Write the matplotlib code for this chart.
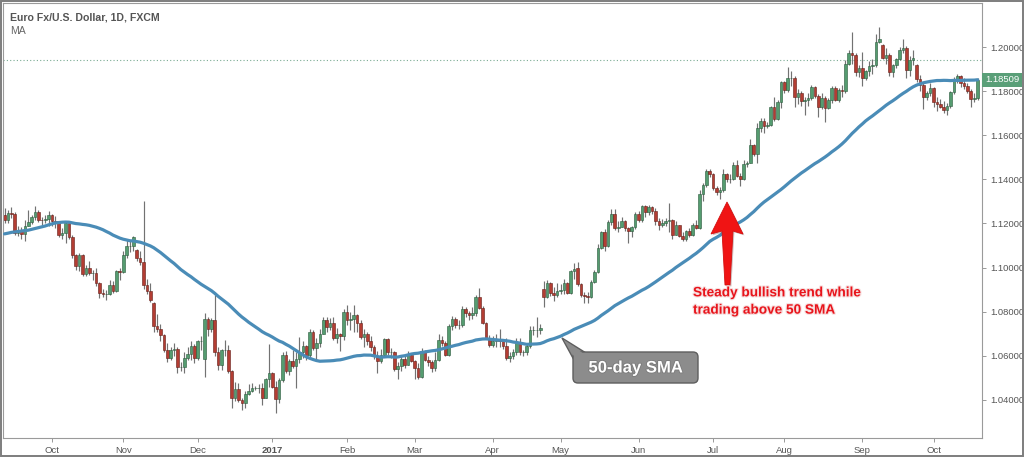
import numpy as np
import pandas as pd
import matplotlib
matplotlib.use("Agg")
import matplotlib.pyplot as plt
import matplotlib.patheffects as pe
from matplotlib.patches import Polygon, FancyBboxPatch, Rectangle
from matplotlib.transforms import Affine2D, blended_transform_factory

plt.rcParams["font.family"] = ["Liberation Sans", "DejaVu Sans"]

W, H = 1024, 457

# EUR/USD daily, FXCM, 2016-09-13 .. 2017-10-19 (weekdays)
start_date = "2016-09-13"

# closes before the visible window, only used to seed the 50-day SMA
warmup_closes = [
    1.1095, 1.1060, 1.1050, 1.1055, 1.1060, 1.1090, 1.1120, 1.1040, 1.1070, 1.1020,
    1.1025, 1.1025, 1.0975, 1.0990, 1.0995, 1.1060, 1.1075, 1.1170,
    1.1165, 1.1225, 1.1150, 1.1130, 1.1085, 1.1085, 1.1110, 1.1175, 1.1135, 1.1160,
    1.1185, 1.1280, 1.1290, 1.1350, 1.1325, 1.1320, 1.1305, 1.1265, 1.1285, 1.1195,
    1.1195, 1.1150, 1.1160,
    1.1195, 1.1155, 1.1150, 1.1255, 1.1240, 1.1260, 1.1230, 1.1240,
]

opens = [
    # Sep 2016
    1.1240, 1.1218, 1.1248, 1.1242, 1.1158, 1.1168, 1.1152, 1.1190, 1.1208, 1.1228, 1.1252, 1.1216, 1.1214, 1.1222,
    # Oct
    1.1238, 1.1210, 1.1205, 1.1150, 1.1155, 1.1200, 1.1140, 1.1055, 1.1005, 1.1055, 1.0970, 1.1000, 1.0975, 1.0975,
    1.0930, 1.0885, 1.0880, 1.0880, 1.0920, 1.0895, 1.0985,
    # Nov
    1.0980, 1.1055, 1.1100, 1.1100, 1.1080, 1.1045, 1.1025, 1.0920, 1.0895, 1.0840, 1.0735, 1.0720, 1.0695, 1.0625,
    1.0590, 1.0625, 1.0630, 1.0550, 1.0550, 1.0590, 1.0610, 1.0645,
    # Dec
    1.0590, 1.0665, 1.0585, 1.0765, 1.0720, 1.0760, 1.0615, 1.0560, 1.0625, 1.0625, 1.0530, 1.0410, 1.0450, 1.0400,
    1.0385, 1.0425, 1.0440, 1.0455, 1.0455, 1.0455, 1.0410, 1.0495,
    # Jan 2017
    1.0520, 1.0460, 1.0405, 1.0490, 1.0605, 1.0530, 1.0575, 1.0555, 1.0585, 1.0615, 1.0645, 1.0605, 1.0710, 1.0635,
    1.0660, 1.0700, 1.0760, 1.0730, 1.0750, 1.0680, 1.0700, 1.0690,
    # Feb
    1.0800, 1.0760, 1.0765, 1.0785, 1.0750, 1.0685, 1.0700, 1.0665, 1.0640, 1.0600, 1.0575, 1.0605, 1.0675, 1.0615,
    1.0615, 1.0540, 1.0555, 1.0585, 1.0560, 1.0605,
    # Mar
    1.0575, 1.0545, 1.0505, 1.0620, 1.0580, 1.0570, 1.0545, 1.0580, 1.0670, 1.0660, 1.0605, 1.0735, 1.0765, 1.0740,
    1.0740, 1.0810, 1.0795, 1.0785, 1.0795, 1.0865, 1.0815, 1.0750, 1.0680,
    # Apr
    1.0650, 1.0665, 1.0675, 1.0665, 1.0645, 1.0590, 1.0600, 1.0615, 1.0660, 1.0615, 1.0615, 1.0645, 1.0715, 1.0715,
    1.0715, 1.0905, 1.0865, 1.0930, 1.0885, 1.0875,
    # May
    1.0895, 1.0900, 1.0930, 1.0885, 1.0985, 1.1000, 1.0925, 1.0875, 1.0870, 1.0865, 1.0935, 1.0980, 1.1090, 1.1160,
    1.1100, 1.1205, 1.1245, 1.1180, 1.1185, 1.1210, 1.1180, 1.1165, 1.1185,
    # Jun
    1.1245, 1.1215, 1.1280, 1.1250, 1.1275, 1.1255, 1.1210, 1.1195, 1.1200, 1.1210, 1.1215, 1.1150, 1.1195, 1.1145,
    1.1130, 1.1165, 1.1150, 1.1195, 1.1180, 1.1335, 1.1375, 1.1440,
    # Jul
    1.1425, 1.1360, 1.1345, 1.1350, 1.1425, 1.1400, 1.1400, 1.1465, 1.1415, 1.1400, 1.1470, 1.1475, 1.1555, 1.1515,
    1.1635, 1.1665, 1.1640, 1.1645, 1.1730, 1.1675, 1.1750,
    # Aug
    1.1840, 1.1805, 1.1860, 1.1860, 1.1775, 1.1790, 1.1755, 1.1760, 1.1770, 1.1820, 1.1780, 1.1730, 1.1770, 1.1725,
    1.1760, 1.1815, 1.1760, 1.1805, 1.1800, 1.1925, 1.1975, 1.1965, 1.1885,
    # Sep
    1.1905, 1.1860, 1.1890, 1.1915, 1.1920, 1.2025, 1.2010, 1.1950, 1.1965, 1.1885, 1.1920, 1.1945, 1.1985, 1.1995,
    1.1895, 1.1940, 1.1920, 1.1855, 1.1830, 1.1775, 1.1790,
    # Oct
    1.1815, 1.1750, 1.1740, 1.1730, 1.1715, 1.1735, 1.1795, 1.1855, 1.1870, 1.1835, 1.1825, 1.1800, 1.1765, 1.1770,
]

highs = [
    1.1270, 1.1260, 1.1275, 1.1250, 1.1190, 1.1185, 1.1215, 1.1260, 1.1240, 1.1278, 1.1260, 1.1228, 1.1240, 1.1258,
    1.1245, 1.1235, 1.1210, 1.1180, 1.1210, 1.1205, 1.1150, 1.1060, 1.1065, 1.1060, 1.1010, 1.1030, 1.0990, 1.1000,
    1.0935, 1.0905, 1.0900, 1.0945, 1.0940, 1.0990, 1.1000,
    1.1075, 1.1125, 1.1125, 1.1145, 1.1085, 1.1075, 1.1300, 1.0950, 1.0930, 1.0845, 1.0790, 1.0745, 1.0700, 1.0660,
    1.0640, 1.0660, 1.0640, 1.0570, 1.0615, 1.0640, 1.0665, 1.0655,
    1.0670, 1.0690, 1.0795, 1.0775, 1.0770, 1.0875, 1.0640, 1.0630, 1.0670, 1.0650, 1.0535, 1.0480, 1.0475, 1.0410,
    1.0440, 1.0470, 1.0475, 1.0465, 1.0470, 1.0475, 1.0500, 1.0655,
    1.0525, 1.0485, 1.0500, 1.0615, 1.0620, 1.0585, 1.0625, 1.0615, 1.0685, 1.0665, 1.0650, 1.0720, 1.0715, 1.0680,
    1.0720, 1.0775, 1.0775, 1.0770, 1.0775, 1.0725, 1.0705, 1.0810,
    1.0830, 1.0800, 1.0830, 1.0790, 1.0760, 1.0720, 1.0710, 1.0690, 1.0650, 1.0620, 1.0630, 1.0680, 1.0680, 1.0635,
    1.0620, 1.0570, 1.0600, 1.0600, 1.0620, 1.0610,
    1.0580, 1.0565, 1.0635, 1.0625, 1.0600, 1.0580, 1.0615, 1.0700, 1.0690, 1.0665, 1.0745, 1.0780, 1.0775, 1.0760,
    1.0825, 1.0820, 1.0805, 1.0820, 1.0875, 1.0906, 1.0825, 1.0755, 1.0695,
    1.0690, 1.0700, 1.0720, 1.0670, 1.0680, 1.0615, 1.0630, 1.0680, 1.0680, 1.0625, 1.0660, 1.0735, 1.0735, 1.0775,
    1.0745, 1.0938, 1.0945, 1.0935, 1.0910, 1.0930,
    1.0925, 1.0950, 1.0935, 1.0990, 1.1020, 1.1025, 1.0930, 1.0890, 1.0890, 1.0945, 1.0990, 1.1105, 1.1165, 1.1175,
    1.1215, 1.1265, 1.1265, 1.1210, 1.1230, 1.1215, 1.1185, 1.1190, 1.1250,
    1.1255, 1.1285, 1.1285, 1.1285, 1.1280, 1.1270, 1.1225, 1.1220, 1.1225, 1.1295, 1.1220, 1.1210, 1.1195, 1.1160,
    1.1170, 1.1180, 1.1200, 1.1215, 1.1350, 1.1385, 1.1445, 1.1445,
    1.1430, 1.1370, 1.1365, 1.1445, 1.1430, 1.1425, 1.1480, 1.1490, 1.1430, 1.1490, 1.1485, 1.1585, 1.1560, 1.1655,
    1.1680, 1.1680, 1.1660, 1.1735, 1.1775, 1.1760, 1.1845,
    1.1845, 1.1910, 1.1890, 1.1870, 1.1810, 1.1800, 1.1775, 1.1790, 1.1830, 1.1825, 1.1785, 1.1790, 1.1780, 1.1770,
    1.1825, 1.1825, 1.1815, 1.1830, 1.1940, 1.1985, 1.2070, 1.1975, 1.1920,
    1.1980, 1.1895, 1.1935, 1.1945, 1.2060, 1.2092, 1.2015, 1.1995, 1.1975, 1.1925, 1.1950, 1.2000, 1.2035, 1.2005,
    1.1960, 1.1985, 1.1925, 1.1875, 1.1835, 1.1800, 1.1835,
    1.1820, 1.1775, 1.1765, 1.1755, 1.1745, 1.1800, 1.1865, 1.1880, 1.1875, 1.1860, 1.1835, 1.1810, 1.1790, 1.1860,
]

lows = [
    1.1200, 1.1200, 1.1225, 1.1150, 1.1145, 1.1130, 1.1122, 1.1188, 1.1198, 1.1215, 1.1205, 1.1195, 1.1200, 1.1190,
    1.1190, 1.1180, 1.1140, 1.1130, 1.1110, 1.1130, 1.1045, 1.0990, 1.0985, 1.0960, 1.0960, 1.0965, 1.0945, 1.0915,
    1.0860, 1.0865, 1.0855, 1.0875, 1.0885, 1.0890, 1.0945,
    1.0975, 1.1045, 1.1070, 1.1075, 1.1030, 1.1010, 1.0905, 1.0880, 1.0845, 1.0710, 1.0710, 1.0665, 1.0615, 1.0570,
    1.0580, 1.0600, 1.0520, 1.0530, 1.0520, 1.0580, 1.0580, 1.0565,
    1.0580, 1.0625, 1.0505, 1.0690, 1.0710, 1.0600, 1.0535, 1.0535, 1.0600, 1.0520, 1.0365, 1.0395, 1.0390, 1.0352,
    1.0365, 1.0420, 1.0435, 1.0445, 1.0430, 1.0375, 1.0410, 1.0460,
    1.0455, 1.0340, 1.0385, 1.0480, 1.0520, 1.0515, 1.0545, 1.0455, 1.0565, 1.0590, 1.0580, 1.0590, 1.0625, 1.0585,
    1.0640, 1.0700, 1.0710, 1.0715, 1.0670, 1.0660, 1.0620, 1.0670,
    1.0740, 1.0715, 1.0710, 1.0710, 1.0675, 1.0640, 1.0650, 1.0620, 1.0585, 1.0520, 1.0565, 1.0595, 1.0605, 1.0590,
    1.0530, 1.0495, 1.0530, 1.0545, 1.0560, 1.0570,
    1.0495, 1.0495, 1.0500, 1.0575, 1.0555, 1.0525, 1.0530, 1.0575, 1.0645, 1.0600, 1.0600, 1.0715, 1.0725, 1.0720,
    1.0730, 1.0775, 1.0760, 1.0765, 1.0780, 1.0810, 1.0745, 1.0675, 1.0640,
    1.0640, 1.0640, 1.0640, 1.0630, 1.0580, 1.0570, 1.0585, 1.0605, 1.0605, 1.0600, 1.0605, 1.0635, 1.0695, 1.0685,
    1.0700, 1.0820, 1.0860, 1.0870, 1.0850, 1.0865,
    1.0880, 1.0880, 1.0880, 1.0880, 1.0950, 1.0915, 1.0865, 1.0840, 1.0840, 1.0860, 1.0930, 1.0975, 1.1085, 1.1075,
    1.1095, 1.1195, 1.1170, 1.1160, 1.1185, 1.1165, 1.1110, 1.1140, 1.1175,
    1.1205, 1.1205, 1.1230, 1.1240, 1.1245, 1.1195, 1.1170, 1.1185, 1.1190, 1.1160, 1.1130, 1.1150, 1.1140, 1.1120,
    1.1120, 1.1140, 1.1145, 1.1175, 1.1175, 1.1300, 1.1365, 1.1410,
    1.1350, 1.1330, 1.1310, 1.1345, 1.1390, 1.1385, 1.1395, 1.1410, 1.1370, 1.1395, 1.1455, 1.1475, 1.1505, 1.1475,
    1.1615, 1.1610, 1.1635, 1.1640, 1.1665, 1.1670, 1.1725,
    1.1790, 1.1795, 1.1825, 1.1730, 1.1740, 1.1735, 1.1690, 1.1735, 1.1760, 1.1770, 1.1685, 1.1720, 1.1660, 1.1720,
    1.1745, 1.1755, 1.1750, 1.1775, 1.1790, 1.1920, 1.1925, 1.1870, 1.1865,
    1.1825, 1.1850, 1.1870, 1.1880, 1.1910, 1.2020, 1.1945, 1.1925, 1.1870, 1.1865, 1.1905, 1.1940, 1.1975, 1.1860,
    1.1870, 1.1920, 1.1840, 1.1800, 1.1720, 1.1760, 1.1780,
    1.1730, 1.1710, 1.1725, 1.1700, 1.1690, 1.1725, 1.1785, 1.1835, 1.1820, 1.1810, 1.1790, 1.1730, 1.1750, 1.1760,
]

closes = [
    1.1218, 1.1248, 1.1242, 1.1158, 1.1168, 1.1152, 1.1190, 1.1208, 1.1228, 1.1252, 1.1216, 1.1214, 1.1222, 1.1238,
    1.1210, 1.1205, 1.1150, 1.1155, 1.1200, 1.1140, 1.1055, 1.1005, 1.1055, 1.0970, 1.1000, 1.0975, 1.0975, 1.0930,
    1.0885, 1.0880, 1.0880, 1.0920, 1.0895, 1.0985, 1.0980,
    1.1055, 1.1100, 1.1100, 1.1140, 1.1045, 1.1025, 1.0920, 1.0895, 1.0855, 1.0735, 1.0720, 1.0695, 1.0625, 1.0590,
    1.0625, 1.0630, 1.0550, 1.0550, 1.0590, 1.0610, 1.0645, 1.0590,
    1.0665, 1.0665, 1.0765, 1.0720, 1.0760, 1.0615, 1.0560, 1.0625, 1.0625, 1.0530, 1.0410, 1.0450, 1.0400, 1.0385,
    1.0425, 1.0440, 1.0455, 1.0455, 1.0455, 1.0410, 1.0495, 1.0520,
    1.0460, 1.0405, 1.0490, 1.0605, 1.0530, 1.0575, 1.0555, 1.0585, 1.0615, 1.0645, 1.0605, 1.0710, 1.0635, 1.0660,
    1.0700, 1.0760, 1.0730, 1.0750, 1.0680, 1.0700, 1.0690, 1.0800,
    1.0760, 1.0765, 1.0785, 1.0750, 1.0685, 1.0700, 1.0665, 1.0640, 1.0600, 1.0575, 1.0605, 1.0675, 1.0615, 1.0615,
    1.0540, 1.0555, 1.0585, 1.0560, 1.0605, 1.0575,
    1.0545, 1.0505, 1.0620, 1.0580, 1.0570, 1.0545, 1.0580, 1.0670, 1.0660, 1.0605, 1.0735, 1.0765, 1.0740, 1.0740,
    1.0810, 1.0795, 1.0785, 1.0795, 1.0865, 1.0815, 1.0750, 1.0680, 1.0650,
    1.0665, 1.0675, 1.0665, 1.0645, 1.0590, 1.0600, 1.0615, 1.0660, 1.0615, 1.0615, 1.0645, 1.0715, 1.0715, 1.0715,
    1.0725, 1.0865, 1.0930, 1.0885, 1.0875, 1.0895,
    1.0900, 1.0930, 1.0885, 1.0985, 1.0995, 1.0925, 1.0875, 1.0870, 1.0865, 1.0935, 1.0980, 1.1090, 1.1160, 1.1100,
    1.1205, 1.1245, 1.1180, 1.1185, 1.1210, 1.1180, 1.1165, 1.1185, 1.1245,
    1.1215, 1.1280, 1.1250, 1.1275, 1.1255, 1.1210, 1.1195, 1.1200, 1.1210, 1.1215, 1.1150, 1.1195, 1.1145, 1.1130,
    1.1165, 1.1150, 1.1195, 1.1180, 1.1335, 1.1375, 1.1440, 1.1425,
    1.1360, 1.1345, 1.1350, 1.1425, 1.1400, 1.1400, 1.1465, 1.1415, 1.1400, 1.1470, 1.1475, 1.1555, 1.1515, 1.1635,
    1.1665, 1.1640, 1.1645, 1.1730, 1.1675, 1.1750, 1.1840,
    1.1805, 1.1860, 1.1860, 1.1775, 1.1790, 1.1755, 1.1760, 1.1770, 1.1820, 1.1780, 1.1730, 1.1770, 1.1725, 1.1760,
    1.1815, 1.1760, 1.1805, 1.1800, 1.1925, 1.1975, 1.1965, 1.1885, 1.1905,
    1.1860, 1.1890, 1.1915, 1.1920, 1.2025, 1.2035, 1.1950, 1.1965, 1.1885, 1.1920, 1.1945, 1.1985, 1.1995, 1.1895,
    1.1940, 1.1950, 1.1855, 1.1830, 1.1775, 1.1790, 1.1815,
    1.1750, 1.1740, 1.1730, 1.1715, 1.1735, 1.1795, 1.1855, 1.1870, 1.1835, 1.1825, 1.1800, 1.1765, 1.1770, 1.18509,
]

sma_period = 50
price_line = 1.1941          # dotted horizontal price line
y_ticks = [1.04, 1.06, 1.08, 1.10, 1.12, 1.14, 1.16, 1.18, 1.20]
month_names = ["Jan", "Feb", "Mar", "Apr", "May", "Jun", "Jul", "Aug", "Sep", "Oct", "Nov", "Dec"]

title = "Euro Fx/U.S. Dollar, 1D, FXCM"
subtitle = "MA"
note_text = "Steady bullish trend while\ntrading above 50 SMA"
callout_text = "50-day SMA"

UP, UP_EDGE = "#559c70", "#2a5a3c"
DOWN, DOWN_EDGE = "#b33d33", "#641d17"
WICK = "#727272"
SMA_COLOR = "#4a8cb7"

n = len(closes)
x = np.arange(n)
o = np.array(opens)
h = np.array(highs)
l = np.array(lows)
c = np.array(closes)
dates = pd.bdate_range(start_date, periods=n)
sma = pd.Series(warmup_closes + closes).rolling(sma_period).mean().to_numpy()[-n:]

fig = plt.figure(figsize=(W / 100, H / 100), dpi=100)
fig.patch.set_facecolor("white")
# axes in pixel terms: x 3..982, y 3..438
ax = fig.add_axes([3 / W, 1 - 438 / H, 979 / W, 435 / H])

up = c >= o
ax.vlines(x, l, h, color=WICK, lw=0.85, zorder=1)
ax.bar(x, c - o, bottom=o, width=0.78,
       color=np.where(up, UP, DOWN), edgecolor=np.where(up, UP_EDGE, DOWN_EDGE),
       linewidth=0.4, zorder=2)
ax.plot(x, sma, color=SMA_COLOR, lw=2.3, solid_capstyle="round", zorder=3)
ax.axhline(price_line, color="#7aab93", ls=(0, (1, 2)), lw=0.8, zorder=0)

ax.set_xlim(-0.45, 288.3)
ax.set_ylim(1.0227, 1.2200)

# month ticks on the first trading day of each month
tick_pos, tick_lab = [], []
for i in range(1, n):
    if dates[i].month != dates[i - 1].month:
        tick_pos.append(i)
        tick_lab.append(str(dates[i].year) if dates[i].month == 1 else month_names[dates[i].month - 1])
ax.set_xticks(tick_pos)
ax.set_xticklabels(tick_lab)
for lab in ax.get_xticklabels():
    if lab.get_text().isdigit():
        lab.set_fontweight("bold")
        lab.set_color("#333333")

ax.yaxis.tick_right()
ax.set_yticks(y_ticks)
ax.set_yticklabels([f"{v:.5f}" for v in y_ticks])
ax.tick_params(axis="both", length=3, width=0.7, color="#999999",
               labelsize=6.8, labelcolor="#555555", pad=3)
for s in ax.spines.values():
    s.set_color("#9a9a9a")
    s.set_linewidth(0.8)

# last price label
bt = blended_transform_factory(ax.transAxes, ax.transData)
ax.text(1.003, c[-1], f"{c[-1]:.5f}", transform=bt, ha="left", va="center",
        fontsize=6.8, color="white", zorder=5, clip_on=False,
        bbox=dict(boxstyle="square,pad=0.28", fc="#5a9f78", ec="none"))

# pixel transform (origin top-left) for the annotations
pix = Affine2D().scale(1 / W, -1 / H).translate(0, 1) + fig.transFigure

fig.text(10, 17, title, transform=pix, fontsize=7.6, fontweight="bold",
         color="#555555", va="center", ha="left")
fig.text(10, 31, subtitle, transform=pix, fontsize=7.6, color="#666666",
         va="center", ha="left")

# red arrow
arrow = Polygon([(727, 202), (743, 234), (733, 231), (730, 285), (725, 285), (722, 231), (711, 234)],
                closed=True, transform=pix, fc="#f01414", ec="#d40f0f", lw=0.6, zorder=10,
                path_effects=[pe.SimplePatchShadow(offset=(1, -1), alpha=0.25), pe.Normal()])
fig.add_artist(arrow)
fig.text(693, 301, note_text, transform=pix, fontsize=9.8, fontweight="bold",
         color="#e8141b", va="center", ha="left", linespacing=1.3, zorder=10,
         path_effects=[pe.withStroke(linewidth=1.6, foreground="#f6dede")])

# grey callout bubble
tail_edge = Polygon([(562, 338), (586, 353), (574, 360)], closed=True, transform=pix,
                    fc="#8c8c8c", ec="#5e5e5e", lw=1.0, zorder=10)
fig.add_artist(tail_edge)
box = FancyBboxPatch((573, 352), 125, 31, boxstyle="round,pad=0,rounding_size=5",
                     transform=pix, fc="#8c8c8c", ec="#5e5e5e", lw=1.0, zorder=11)
fig.add_artist(box)
tail_fill = Polygon([(564, 340), (584, 354), (575, 358)], closed=True, transform=pix,
                    fc="#8c8c8c", ec="none", zorder=12)
fig.add_artist(tail_fill)
fig.text(635.5, 368, callout_text, transform=pix, fontsize=12, fontweight="bold",
         color="white", va="center", ha="center", zorder=13,
         path_effects=[pe.withStroke(linewidth=1.2, foreground="#7a7a7a")])

# outer frame
fig.add_artist(Rectangle((0.5, 0.5), W - 1.5, H - 1.5, transform=pix, fill=False,
                         ec="#7d7d7d", lw=1.4, zorder=20))

fig.savefig("out.png", dpi=100)
